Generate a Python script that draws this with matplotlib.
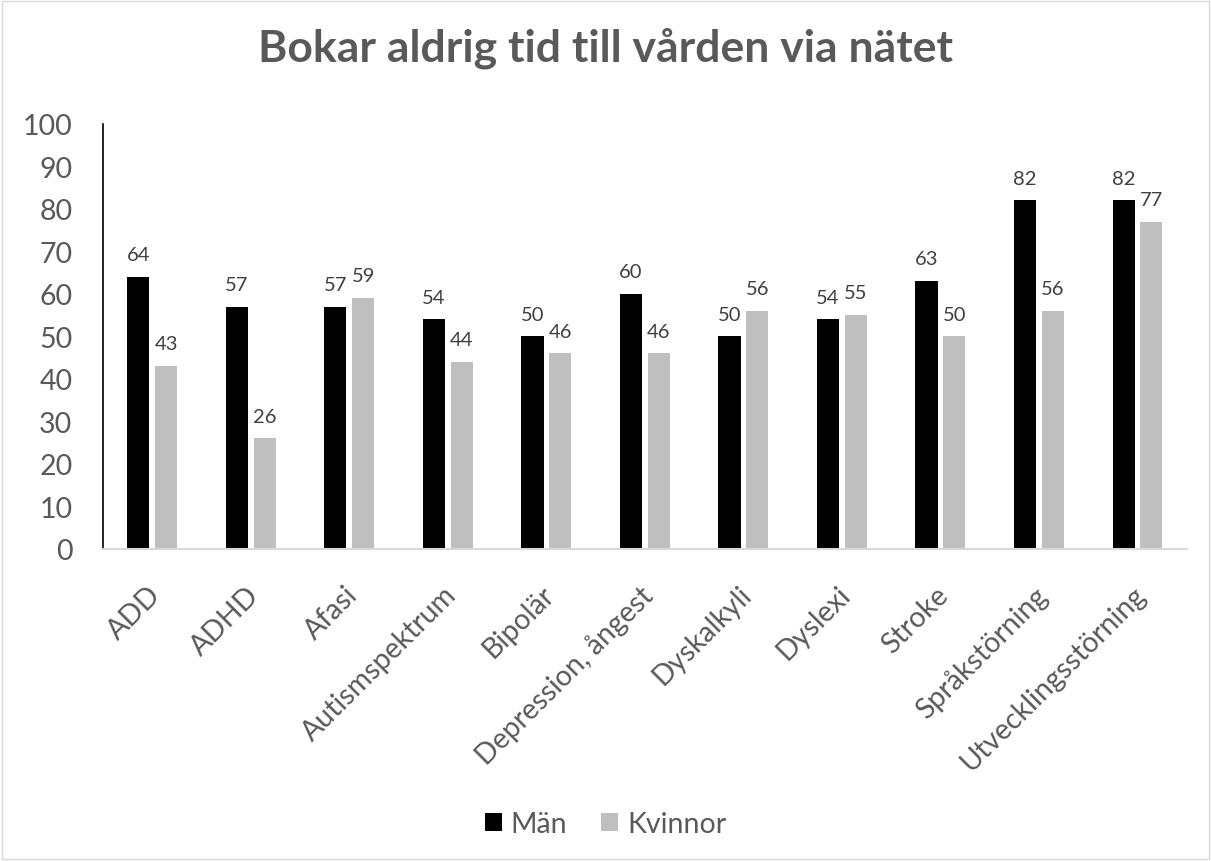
import numpy as np
import matplotlib.pyplot as plt
from matplotlib.transforms import ScaledTranslation

categories = ["ADD", "ADHD", "Afasi", "Autismspektrum", "Bipolär",
              "Depression, ångest", "Dyskalkyli", "Dyslexi", "Stroke",
              "Språkstörning", "Utvecklingsstörning"]
man = [64, 57, 57, 54, 50, 60, 50, 54, 63, 82, 82]
kvinnor = [43, 26, 59, 44, 46, 46, 56, 55, 50, 56, 77]

grey_text = "#595959"
plt.rcParams['font.family'] = ['Lato', 'DejaVu Sans']

fig = plt.figure(figsize=(12.11, 8.62), dpi=100)
ax = fig.add_axes([0.085, 0.362, 0.895, 0.493])

x = np.arange(len(categories))
w = 0.225
off = 0.141
b1 = ax.bar(x - off, man, w, color="black", label="Män")
b2 = ax.bar(x + off, kvinnor, w, color="#BFBFBF", label="Kvinnor")

for bars in (b1, b2):
    for b in bars:
        ax.annotate(str(int(b.get_height())),
                    (b.get_x() + b.get_width() / 2, b.get_height()),
                    xytext=(0, 10), textcoords="offset points",
                    ha="center", va="bottom", fontsize=14.5, color="#404040")

ax.set_xlim(-0.5, len(categories) - 0.5)
ax.set_ylim(0, 100)
ax.set_yticks(range(0, 101, 10))
ax.set_xticks(x)
ax.set_xticklabels(categories, rotation=45, ha="right", rotation_mode="anchor")
ax.tick_params(axis="both", length=0, labelsize=20.5, colors=grey_text)
ax.tick_params(axis="x", pad=23)
ax.tick_params(axis="y", pad=22)
shift = ScaledTranslation(-5 / 100, 0, fig.dpi_scale_trans)
for lbl in ax.get_xticklabels():
    lbl.set_transform(lbl.get_transform() + shift)

for s in ("top", "right"):
    ax.spines[s].set_visible(False)
ax.spines["left"].set_color("black")
ax.spines["left"].set_linewidth(1.2)
ax.spines["bottom"].set_color("#D9D9D9")
ax.spines["bottom"].set_linewidth(1.5)

fig.suptitle("Bokar aldrig tid till vården via nätet", y=0.968,
             fontsize=32, fontweight="bold", color=grey_text)

fig.legend(loc="center", bbox_to_anchor=(0.5, 0.043), ncol=2, frameon=False,
           fontsize=20.5, labelcolor=grey_text, handlelength=0.6,
           handleheight=0.6, handletextpad=0.3, columnspacing=1.2)

fig.patches.append(plt.Rectangle((0.002, 0.002), 0.996, 0.996,
                                 transform=fig.transFigure, fill=False,
                                 edgecolor="#D9D9D9", linewidth=1))

fig.savefig("out.png", dpi=100)
